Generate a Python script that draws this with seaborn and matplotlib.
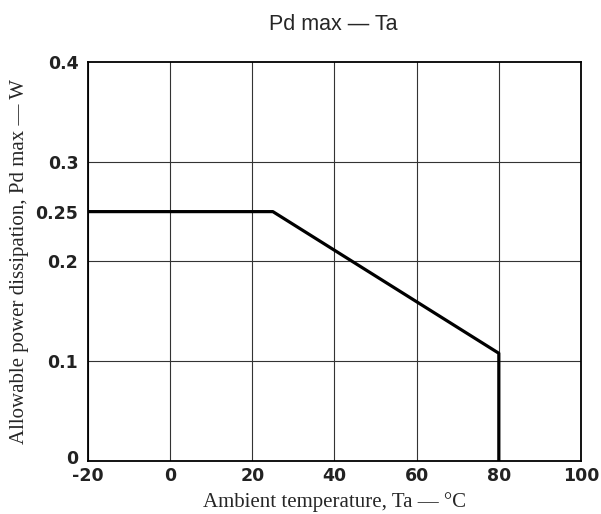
import numpy as np
import pandas as pd
import matplotlib
matplotlib.use("Agg")
import matplotlib.pyplot as plt
import matplotlib.transforms as mtransforms
import seaborn as sns

# derating curve
temp = [-20, 25, 80, 80]
pd_max = [0.25, 0.25, 0.108, 0.0]

x_ticks = [-20, 0, 20, 40, 60, 80, 100]
y_ticks = [0, 0.1, 0.2, 0.25, 0.3, 0.4]
y_labels = ["0", "0.1", "0.2", "0.25", "0.3", "0.4"]

df = pd.DataFrame({"Ta": temp, "Pd": pd_max})

sns.set_style("white")
fig = plt.figure(figsize=(6.01, 5.14), dpi=100)
ax = fig.add_axes([0.1464, 0.1031, 0.8203, 0.7763])

sns.lineplot(data=df, x="Ta", y="Pd", sort=False, estimator=None,
             color="black", linewidth=2.3, ax=ax)

ax.set_xlim(-20, 100)
ax.set_ylim(0, 0.4)
ax.set_xticks(x_ticks)
ax.set_xticklabels([str(t) for t in x_ticks])
ax.set_yticks(y_ticks)
ax.set_yticklabels(y_labels)

ax.grid(True, color="#333333", linewidth=0.8)
# grid lines only at 0.1/0.2/0.3, the 0.25 has just a label
for i in (0, 3, 5):
    ax.yaxis.get_gridlines()[i].set_visible(False)

for s in ax.spines.values():
    s.set_visible(True)
    s.set_color("black")
    s.set_linewidth(1.3)

ax.tick_params(axis="x", length=0, labelsize=12.5, pad=4)
ax.tick_params(axis="y", length=0, labelsize=12.5, pad=7)
for lab in ax.get_xticklabels() + ax.get_yticklabels():
    lab.set_fontweight("bold")
    lab.set_family("DejaVu Sans")
    lab.set_color("#222222")

# lift the "0" on the y axis a bit so it sits clear of "-20"
ylab0 = ax.get_yticklabels()[0]
ylab0.set_transform(ylab0.get_transform() +
                    mtransforms.ScaledTranslation(0, 4 / 100, fig.dpi_scale_trans))

ax.set_xlabel("Ambient temperature, Ta — °C", family="Liberation Serif", fontsize=15)
ax.set_ylabel("Allowable power dissipation, Pd max — W", family="Liberation Serif",
              fontsize=15)
ax.xaxis.set_label_coords(0.5, -0.103)
ax.yaxis.set_label_coords(-0.138, 0.5)
ax.xaxis.label.set_va("center")
ax.yaxis.label.set_va("center")

fig.text(0.555, 1 - 24 / 514, "Pd max — Ta", family="Liberation Sans",
         fontsize=15.5, ha="center", va="center")

fig.savefig("out.png", dpi=100)
